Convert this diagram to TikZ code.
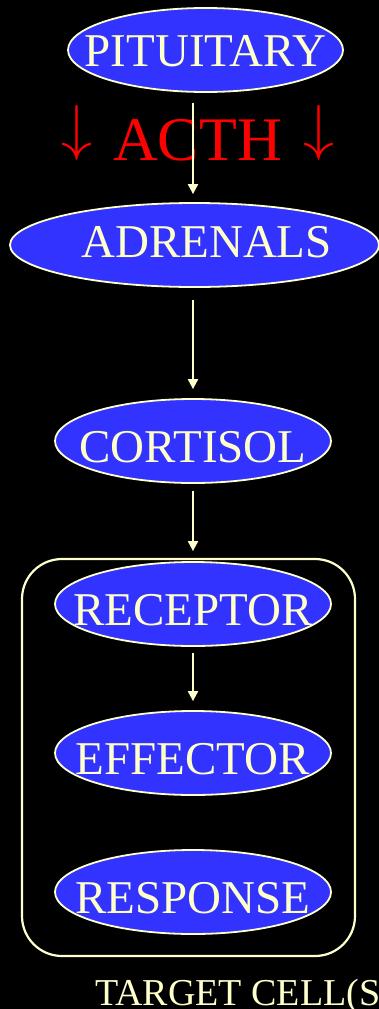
\documentclass[tikz,border=0pt]{standalone}
\usepackage{fontspec}
\setmainfont{Liberation Serif}
\usetikzlibrary{shapes.geometric,arrows.meta}
\definecolor{bluefill}{RGB}{51,51,255}
\definecolor{cream}{RGB}{255,255,204}
\definecolor{hormone}{RGB}{255,0,0}
% text centred in a zero-width box so the ellipse keeps its set size
\newcommand{\stagetext}[1]{\makebox[0pt]{#1}}
% large open-headed down arrow, bottom sitting on the baseline
\newcommand{\downmark}{\raisebox{12pt}{\fontsize{10}{10}\selectfont\scalebox{6.2}{$\downarrow$}}}
\tikzset{
  stage/.style={ellipse, draw=cream, line width=1.8pt, fill=bluefill,
    text=cream, inner sep=0pt, minimum width=276pt, minimum height=84pt,
    font=\fontsize{47}{47}\selectfont, text height=43pt},
  flow/.style={draw=cream, line width=2pt, -{Triangle[width=10pt,length=10pt]}},
  cellbox/.style={draw=cream, line width=2.2pt, rounded corners=40pt,
    minimum width=333pt, minimum height=397pt, inner sep=0pt},
}
\begin{document}
\begin{tikzpicture}[x=1pt,y=-1pt]
  \useasboundingbox (0,0) rectangle (379,1009);
  \fill[black] (0,0) rectangle (379,1009);

  % target cell boundary
  \node[cellbox] (cell) at (188.5,757.5) {};

  % cascade stages
  \node[stage, minimum width=275pt, text height=33pt] (pit) at (205.5,50) {\stagetext{PITUITARY}};
  \node[stage, minimum width=369pt, text height=31pt, text depth=6pt] (adr) at (194.5,245) {\stagetext{\hspace*{24pt}ADRENALS}};
  \node[stage] (cort) at (193,441) {\stagetext{CORTISOL}};
  \node[stage] (rec) at (193,604) {\stagetext{RECEPTOR}};
  \node[stage] (eff) at (193,753) {\stagetext{EFFECTOR}};
  \node[stage] (resp) at (193,892) {\stagetext{RESPONSE}};

  % hormone label
  \node[text=hormone, anchor=base, inner sep=0pt, font=\fontsize{62}{62}\selectfont]
    (acth) at (198,160) {\downmark\hspace{21pt}ACTH\hspace{22pt}\downmark};

  % connectors
  \draw[flow, shorten <=10pt, shorten >=8pt] (cort.north |- pit.south) -- (cort.north |- adr.north);
  \draw[flow, shorten <=12pt, shorten >=9pt] (cort.north |- adr.south) -- (cort.north);
  \draw[flow, shorten <=7pt, shorten >=10pt] (cort.south) -- (rec.north);
  \draw[flow, shorten <=6pt, shorten >=9pt] (rec.south) -- (eff.north);

  % caption
  \node[text=cream, anchor=base west, inner sep=0pt, font=\fontsize{38}{38}\selectfont]
    (caption) at (95,1005) {TARGET CELL(S)};
\end{tikzpicture}
\end{document}
